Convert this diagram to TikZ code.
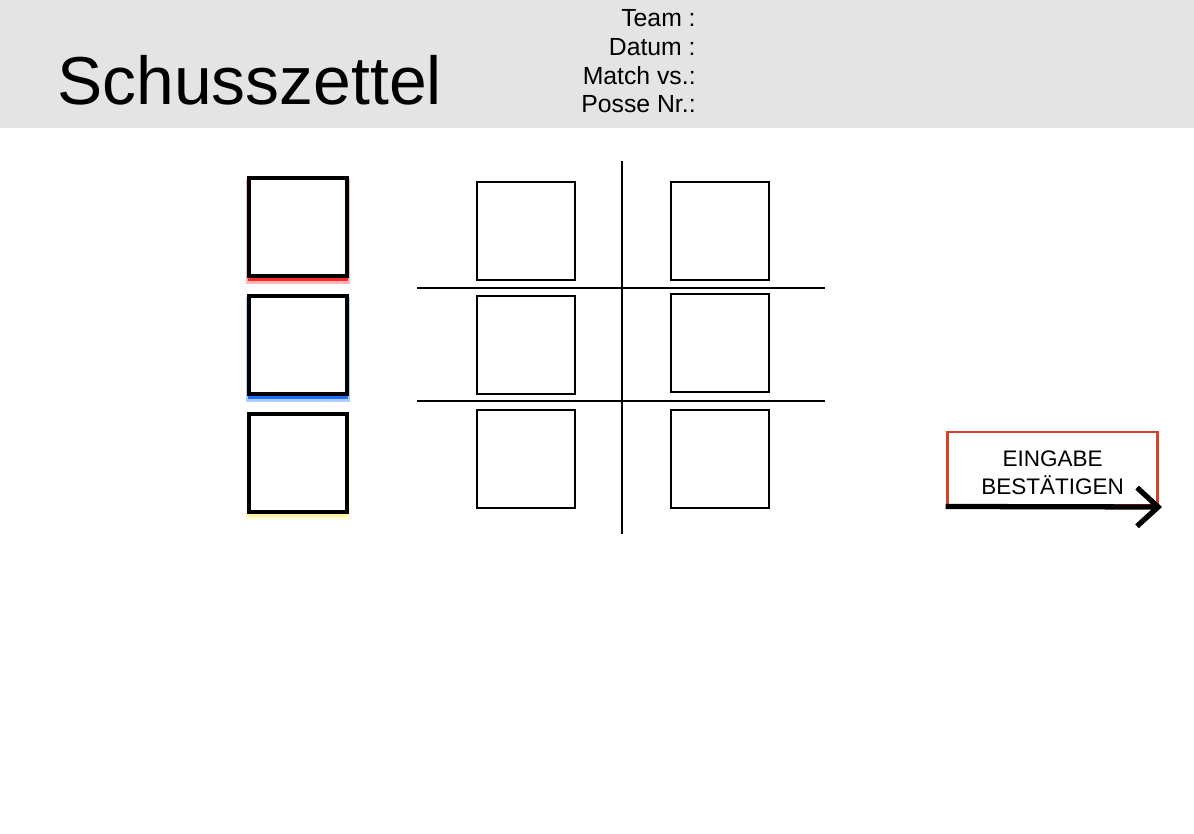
\documentclass[tikz,border=0pt]{standalone}
\usepackage{fontspec}
\setmainfont{Liberation Sans}
\usetikzlibrary{arrows.meta,shadows,positioning}
\definecolor{headgray}{HTML}{E4E4E4}
\definecolor{btnred}{HTML}{D8412B}
\definecolor{shadred}{HTML}{FF2A2A}
\definecolor{shadblue}{HTML}{1E6FFF}
\definecolor{shadyellow}{HTML}{FFF3A0}

\begin{document}
\begin{tikzpicture}[x=0.02cm,y=-0.02cm,node distance=2.36cm,
		field/.style={draw,line width=0.85pt,minimum size=1.96cm,inner sep=0pt},
		colfield/.style={draw,line width=2.2pt,minimum size=1.96cm,inner sep=0pt,fill=white,
			general shadow={fill=#1!35,shadow yshift=-0.09cm,shadow scale=1.07},
			general shadow={fill=#1,shadow yshift=-0.06cm,shadow scale=1.03}},
		info/.style={anchor=base east,inner sep=0pt,font=\fontsize{14.1pt}{16pt}\selectfont},
		sep/.style={line width=0.6pt}]
	\useasboundingbox (0,0) rectangle (1194,834);
	
	% header
	\fill[headgray] (0,0) rectangle (1194,128);
	\node[anchor=base west,inner sep=0pt,font=\fontsize{38.6pt}{46pt}\selectfont] (title) at (57,105) {Schusszettel};
	\node[info] (team) at (696,27) {Team :};
	\node[info] (datum) at (696,56) {Datum :};
	\node[info] (match) at (696,85) {Match vs.:};
	\node[info] (posse) at (696,113) {Posse Nr.:};
	
	% colour boxes
	\node[colfield=shadred] (L1) at (298,227) {};
	\node[colfield=shadblue] (L2) [below of=L1] {};
	\node[colfield=shadyellow] (L3) [below of=L2] {};
	
	% grid
	\node[field] (A1) at (526,231) {};
	\node[field, node distance=2.28cm] (A2) [below of=A1] {};
	\node[field, node distance=2.28cm] (A3) [below of=A2] {};
	\node[field, node distance=3.88cm] (B1) [right of=A1] {};
	\node[field] (B2) at (720,343) {};
	\node[field, node distance=3.88cm] (B3) [right of=A3] {};
	
	\coordinate (vtop) at (622,161);
	\coordinate (vbot) at (622,534);
	\coordinate (h1l) at (417,288);
	\coordinate (h1r) at (825,288);
	\coordinate (h2l) at (417,401);
	\coordinate (h2r) at (825,401);
	\draw[sep] (vtop) -- (vbot);
	\draw[sep] (h1l) -- (h1r);
	\draw[sep] (h2l) -- (h2r);
	
	% button
	\node[draw=btnred,line width=1.7pt,minimum width=4.22cm,minimum height=1.48cm] (btn) at (1052.5,469) {};
	\node[align=center,font=\fontsize{12.8pt}{16pt}\selectfont] (btntext) at (1052.5,473) {EINGABE\\BESTÄTIGEN};
	\coordinate (tip) at (1162,507);
	\draw[line width=3pt,-{Straight Barb[length=12pt,width=22pt]}] (btn.south west) ++(0,-1) -- (tip);
\end{tikzpicture}
\end{document}
